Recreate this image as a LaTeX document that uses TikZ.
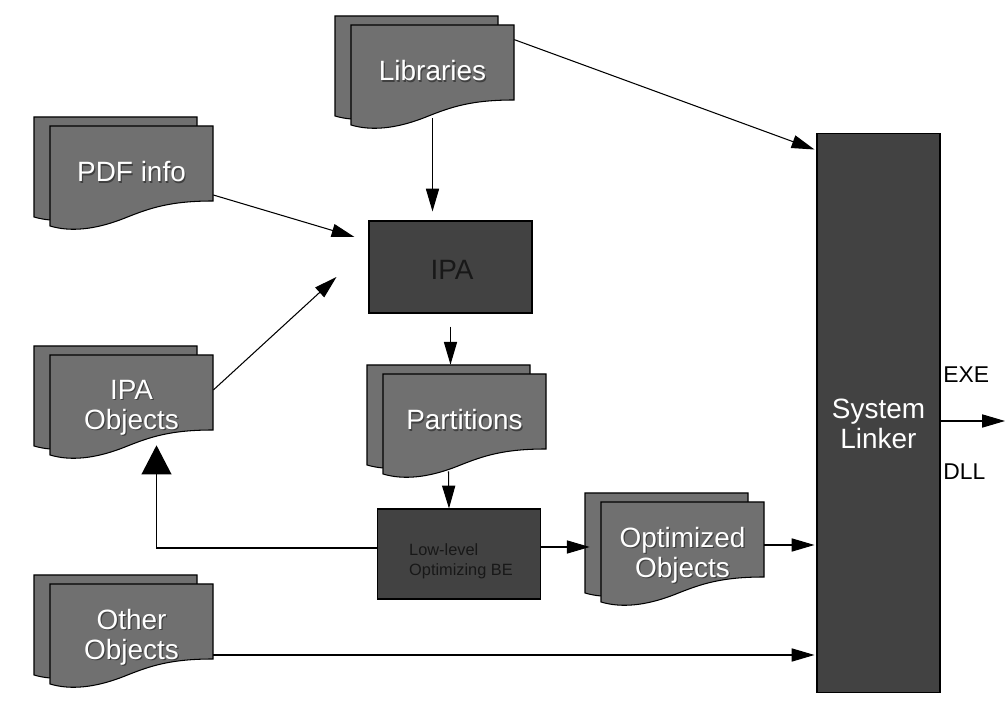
\documentclass[tikz,border=0pt]{standalone}
\usepackage{fontspec}
\setmainfont{Liberation Sans}
\usetikzlibrary{arrows.meta,calc}

\definecolor{sheetgray}{RGB}{112,112,112}
\definecolor{boxgray}{RGB}{66,66,66}
\definecolor{inkgray}{RGB}{24,24,24}

\tikzset{
  sheet/.style={draw=black, fill=sheetgray, line width=0.6pt},
  sheetframe/.style={inner sep=0pt, minimum width=3.26cm, minimum height=1.8cm},
  sheettext/.style={text=white, align=center, inner sep=0pt, font=\fontsize{15.9}{17}\selectfont},
  sheetshadow/.style={sheettext, text=black!75},
  procbox/.style={draw=black, fill=boxgray, line width=0.6pt, inner sep=0pt, align=center},
  link/.style={line width=0.6pt, -{Triangle[length=13pt,width=7.5pt]}},
  biglink/.style={line width=0.6pt, -{Triangle[length=16.5pt,width=17pt]}},
  tag/.style={anchor=west, inner sep=0pt, font=\fontsize{13}{15}\selectfont},
}

% stacked sheets: [text depth], name, left, top, text
\newcommand{\docsheet}[5][46]{
  \begin{scope}[shift={(#3,#4)}]
    \draw[sheet] (-16,-9) -- (147,-9) -- (147,66) .. controls (104,66) and (84,73) .. (59,83) .. controls (29,95) and (4,97) .. (-16,91) -- cycle;
    \draw[sheet] (0,0) -- (163,0) -- (163,75) .. controls (120,75) and (100,82) .. (75,92) .. controls (45,104) and (20,106) .. (0,100) -- cycle;
    \node[sheetframe] (#2) at (81.5,45) {};
    \node[sheetshadow] at (82.7,#1+1.2) {#5};
    \node[sheettext] (#2 text) at (81.5,#1) {#5};
  \end{scope}}

\begin{document}
\begin{tikzpicture}[x=0.02cm,y=-0.02cm]
\useasboundingbox (0,0) rectangle (1005,712);

% input sheets
\docsheet{lib}{351}{25}{Libraries}
\docsheet{pdf}{50}{126}{PDF info}
\docsheet[53]{ipaobj}{50}{355}{IPA\\Objects}
\docsheet[53]{other}{50}{584}{Other\\Objects}
\docsheet{part}{383}{374}{Partitions}
\docsheet[53]{optobj}{601}{502}{Optimized\\Objects}

% processing boxes
\node[procbox, minimum width=3.26cm, minimum height=1.84cm] (ipa) at (450.5,267) {};
\node[text=inkgray, inner sep=0pt, font=\fontsize{15.9}{17}\selectfont] (ipaname) at (452,270) {IPA};
\node[procbox, minimum width=3.26cm, minimum height=1.8cm] (lowbe) at (459,554) {};
\node[text=inkgray, inner sep=0pt, align=left, font=\fontsize{9.3}{11.4}\selectfont] (lowname) at (461,561) {Low-level\\Optimizing BE};
\node[procbox, minimum width=2.46cm, minimum height=11.2cm] (linker) at (878.5,413) {};
\node[text=white, align=center, inner sep=0pt, font=\fontsize{15.9}{17}\selectfont] (linkname) at (878.5,424) {System\\Linker};

% outputs
\coordinate (out) at (1005,421);
\node[tag] (exe) at (943,375) {EXE};
\node[tag] (dll) at (943,472) {DLL};

% arrows into IPA
\draw[link] ($(lib.south)+(0,3)$) -- ($(lib.south |- ipa.north)+(0,-9)$);
\draw[link] ($(pdf.east)+(0,24)$) -- ($(ipa.west)+(-14,-30)$);
\draw[link] ($(ipaobj.east)+(0,-10)$) -- ($(ipa.west)+(-32,10)$);
\draw[link] ($(ipa.south)+(0,13)$) -- ($(ipa.south |- part.north)+(0,-9)$);
\draw[link] ($(part.south)+(-16,7)$) -- ($(lowbe.north)+(-10,0)$);

% feedback to IPA objects
\draw[biglink] ($(lowbe.west)+(0,-6)$) -| ($(ipaobj.south)+(25,0)$);

% arrows into the linker
\draw[link] ($(lib.north east)+(0,15)$) -- ($(linker.north west)+(-2,17)$);
\draw[link] ($(lowbe.east)+(0,-7)$) -- ($(optobj.west)+(-11,0)$);
\draw[link] ($(optobj.east)+(0,-2)$) -- ($(optobj.east -| linker.west)+(-2,-2)$);
\draw[link] ($(other.east)+(0,26)$) -- ($(other.east -| linker.west)+(-2,26)$);
\draw[link] ($(linker.east)+(0,8)$) -- (out);

\end{tikzpicture}
\end{document}
